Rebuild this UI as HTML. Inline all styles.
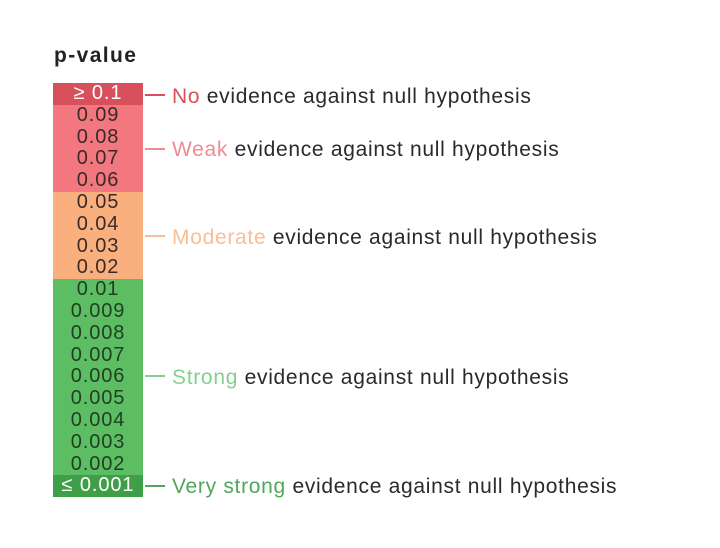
<!DOCTYPE html>
<html><head><meta charset="utf-8"><style>
body{margin:0;width:720px;height:548px;background:#fff;font-family:"Liberation Sans",sans-serif;position:relative;overflow:hidden}
.t{position:absolute;left:54px;top:44px;font-weight:bold;font-size:21px;letter-spacing:1.4px;color:#222}
.col{position:absolute;left:53px;top:83px;width:90px}
.r{height:21.8px;line-height:21.8px;text-align:center;font-size:20px;letter-spacing:0.9px;color:#3a2a2a}
.l{position:absolute;left:172px;font-size:21px;letter-spacing:0.7px;color:#2a2a2a;line-height:20px}
.k{position:absolute;left:145px;width:20px;height:1.5px}
</style></head><body>
<div class="t">p-value</div>
<div class="col">
<div class="r" style="background:#d8505b;color:#fff">≥ 0.1</div>
<div class="r" style="background:#f2777f">0.09</div>
<div class="r" style="background:#f2777f">0.08</div>
<div class="r" style="background:#f2777f">0.07</div>
<div class="r" style="background:#f2777f">0.06</div>
<div class="r" style="background:#f9b07e">0.05</div>
<div class="r" style="background:#f9b07e">0.04</div>
<div class="r" style="background:#f9b07e">0.03</div>
<div class="r" style="background:#f9b07e">0.02</div>
<div class="r" style="background:#5dbd63;color:#1f3f22">0.01</div>
<div class="r" style="background:#5dbd63;color:#1f3f22">0.009</div>
<div class="r" style="background:#5dbd63;color:#1f3f22">0.008</div>
<div class="r" style="background:#5dbd63;color:#1f3f22">0.007</div>
<div class="r" style="background:#5dbd63;color:#1f3f22">0.006</div>
<div class="r" style="background:#5dbd63;color:#1f3f22">0.005</div>
<div class="r" style="background:#5dbd63;color:#1f3f22">0.004</div>
<div class="r" style="background:#5dbd63;color:#1f3f22">0.003</div>
<div class="r" style="background:#5dbd63;color:#1f3f22">0.002</div>
<div class="r" style="background:#3f9f49;color:#fff">≤ 0.001</div>
</div>
<div class="k" style="top:94px;background:#d8505b"></div>
<div class="l" style="top:87px"><span style="color:#d8505b">No</span> evidence against null hypothesis</div>
<div class="k" style="top:148px;background:#f08a94"></div>
<div class="l" style="top:140px"><span style="color:#f08a94">Weak</span> evidence against null hypothesis</div>
<div class="k" style="top:235px;background:#f9be94"></div>
<div class="l" style="top:228px"><span style="color:#f9be94">Moderate</span> evidence against null hypothesis</div>
<div class="k" style="top:375px;background:#86cf8b"></div>
<div class="l" style="top:368px"><span style="color:#86cf8b">Strong</span> evidence against null hypothesis</div>
<div class="k" style="top:485px;background:#4fa85a"></div>
<div class="l" style="top:477px"><span style="color:#4fa85a">Very strong</span> evidence against null hypothesis</div>
</body></html>
